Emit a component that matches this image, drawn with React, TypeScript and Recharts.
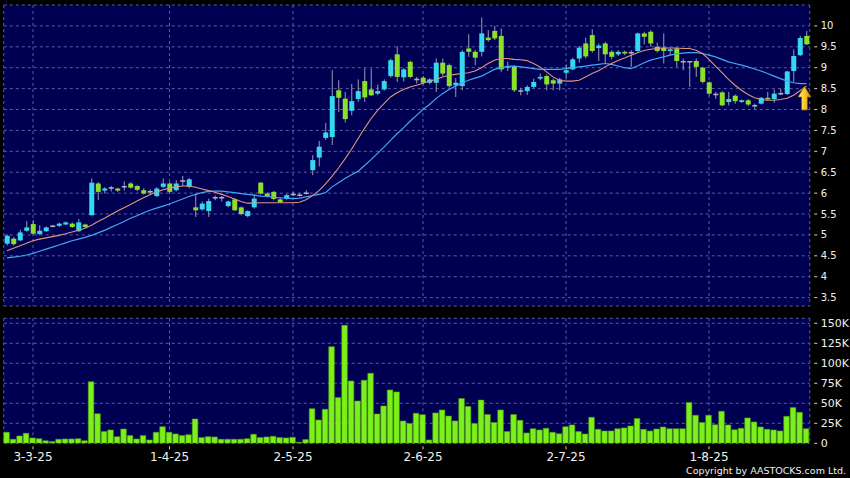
import {
  ComposedChart,
  Bar,
  Line,
  XAxis,
  YAxis,
  CartesianGrid,
  ReferenceDot,
} from "recharts";

// daily OHLC (124 sessions, late Feb → late Aug 2025)
const openP = [
  4.79, 4.91, 4.87, 5.1, 5.26, 5.02, 5.09, 5.21, 5.22, 5.25, 5.27, 5.09, 5.25, 5.47, 6.23, 6.06, 6.12, 6.11, 6.15, 6.23,
  6.17, 6.07, 6.03, 5.93, 6.15, 6.23, 6.07, 6.29, 6.15, 5.66, 5.61, 5.57, 5.89, 5.89, 5.69, 5.85, 5.66, 5.45, 5.66, 6.25,
  5.99, 6.03, 5.85, 5.87, 5.97, 5.95, 6.0, 6.55, 6.85, 7.32, 7.34, 8.46, 8.26, 7.97, 8.25, 8.68, 8.48, 8.38, 8.48, 8.8,
  9.32, 8.77, 9.14, 8.72, 8.76, 8.64, 8.64, 9.12, 9.06, 8.58, 8.56, 9.46, 9.38, 9.38, 9.72, 9.88, 9.76, 9.02, 9.02, 8.44,
  8.44, 8.54, 8.74, 8.8, 8.7, 8.62, 8.88, 8.96, 9.22, 9.58, 9.78, 9.47, 9.58, 9.38, 9.32, 9.38, 9.36, 9.4, 9.82, 9.86,
  9.5, 9.48, 9.4, 9.46, 9.14, 9.14, 9.16, 9.0, 8.65, 8.36, 8.41, 8.18, 8.33, 8.18, 8.22, 8.09, 8.14, 8.28, 8.25, 8.38,
  8.37, 8.92, 9.3, 9.76,
];
const highP = [
  5.01, 4.95, 5.12, 5.33, 5.35, 5.23, 5.2, 5.24, 5.29, 5.32, 5.3, 5.38, 5.27, 6.35, 6.26, 6.14, 6.17, 6.13, 6.28, 6.26,
  6.19, 6.12, 6.09, 6.14, 6.35, 6.26, 6.31, 6.41, 6.36, 5.99, 5.8, 5.87, 5.94, 5.93, 5.82, 5.88, 5.68, 5.59, 5.98, 6.27,
  6.02, 6.05, 5.88, 5.98, 6.03, 6.0, 6.07, 6.91, 7.25, 7.68, 8.94, 8.7, 8.42, 8.61, 8.72, 8.98, 8.98, 8.6, 8.72, 9.22,
  9.51, 8.99, 9.17, 8.78, 8.8, 8.75, 9.22, 9.22, 9.1, 8.75, 9.42, 9.8, 9.42, 10.2, 9.9, 10.0, 9.94, 9.14, 9.06, 8.52,
  8.58, 8.74, 8.86, 8.84, 8.74, 8.76, 9.08, 9.24, 9.52, 9.72, 9.92, 9.58, 9.62, 9.42, 9.42, 9.41, 9.42, 9.84, 9.86, 9.9,
  9.6, 9.82, 9.46, 9.48, 9.22, 9.16, 9.22, 9.02, 8.67, 8.42, 8.44, 8.42, 8.36, 8.24, 8.25, 8.14, 8.3, 8.42, 8.48, 8.5,
  8.93, 9.44, 9.76, 9.88,
];
const lowP = [
  4.75, 4.74, 4.85, 5.08, 5.01, 5.0, 5.07, 5.18, 5.19, 5.23, 5.17, 5.07, 5.17, 5.47, 5.83, 5.99, 6.04, 6.03, 6.06, 6.11,
  6.05, 5.97, 5.97, 5.91, 6.12, 6.0, 6.04, 6.17, 6.12, 5.43, 5.58, 5.43, 5.83, 5.8, 5.66, 5.57, 5.47, 5.42, 5.63, 5.96,
  5.9, 5.83, 5.76, 5.84, 5.93, 5.92, 5.97, 6.43, 6.64, 7.27, 7.15, 7.94, 7.69, 7.86, 8.18, 8.18, 8.32, 8.34, 8.45, 8.76,
  8.66, 8.67, 8.75, 8.62, 8.6, 8.6, 8.42, 8.8, 8.52, 8.3, 8.46, 9.26, 9.06, 9.27, 9.62, 9.66, 8.9, 8.92, 8.42, 8.34,
  8.35, 8.5, 8.7, 8.46, 8.46, 8.46, 8.76, 8.94, 9.12, 9.22, 9.36, 9.16, 9.1, 9.2, 9.28, 9.3, 9.02, 9.38, 9.56, 9.5,
  9.36, 9.1, 9.3, 9.02, 8.94, 8.54, 8.78, 8.62, 8.34, 8.26, 8.08, 8.1, 8.14, 8.16, 8.08, 8.0, 8.12, 8.22, 8.16, 8.35,
  8.35, 8.66, 9.28, 9.54,
];
const closeP = [
  4.98, 4.78, 5.06, 5.18, 5.03, 5.1, 5.18, 5.21, 5.27, 5.3, 5.19, 5.3, 5.19, 6.25, 6.03, 6.11, 6.12, 6.06, 6.15, 6.13,
  6.08, 5.99, 6.03, 6.11, 6.23, 6.03, 6.23, 6.29, 6.33, 5.59, 5.75, 5.81, 5.89, 5.89, 5.8, 5.59, 5.5, 5.57, 5.87, 5.99,
  5.93, 5.86, 5.78, 5.95, 5.97, 5.95, 6.0, 6.79, 7.11, 7.45, 8.32, 8.28, 7.77, 8.2, 8.44, 8.29, 8.34, 8.44, 8.68, 9.18,
  8.78, 8.96, 8.78, 8.72, 8.64, 8.72, 9.12, 8.86, 8.56, 8.64, 9.38, 9.38, 9.24, 9.82, 9.66, 9.7, 8.96, 9.02, 8.46, 8.44,
  8.54, 8.66, 8.78, 8.6, 8.62, 8.72, 8.94, 9.2, 9.48, 9.27, 9.4, 9.53, 9.32, 9.26, 9.38, 9.34, 9.36, 9.82, 9.74, 9.58,
  9.4, 9.4, 9.44, 9.16, 9.14, 9.14, 9.02, 8.66, 8.38, 8.36, 8.1, 8.25, 8.2, 8.22, 8.12, 8.09, 8.28, 8.25, 8.38, 8.38,
  8.91, 9.28, 9.71, 9.56,
];
const volume = [
  13800, 5000, 9200, 12500, 6700, 5800, 3300, 2100, 5000, 5400, 5400, 5800, 3300, 77000, 37000, 14600, 16700, 8300, 17900, 9600,
  5400, 9600, 4200, 13800, 20800, 13800, 11700, 9600, 10800, 30400, 7100, 8300, 7900, 5000, 5000, 5000, 5000, 5800, 11300, 7100,
  7900, 8800, 7100, 6700, 7500, 1300, 4600, 43300, 29200, 42500, 120800, 57100, 147500, 77900, 52900, 78800, 87500, 36700, 46700, 66700,
  64200, 27900, 24600, 37500, 35800, 4200, 38000, 41700, 34000, 28000, 56000, 46000, 24600, 54000, 36000, 26000, 41700, 14600, 36000, 28700,
  13000, 18300, 16700, 18700, 13700, 12000, 20800, 23000, 14600, 11700, 32500, 17500, 15400, 15400, 18300, 19200, 21700, 31000, 17500, 15400,
  17900, 20400, 18300, 18300, 18300, 51000, 35000, 26000, 35000, 23300, 40000, 23000, 17000, 18700, 31700, 26700, 20400, 17500, 16700, 15400,
  33700, 44600, 38700, 18300,
];
// moving averages as drawn (orange = short, blue = long)
const maFast = [
  4.62, 4.68, 4.74, 4.8, 4.86, 4.9, 4.93, 4.96, 4.99, 5.03, 5.07, 5.11, 5.16, 5.23, 5.32, 5.4, 5.49, 5.57, 5.65, 5.73,
  5.81, 5.89, 5.96, 6.03, 6.08, 6.12, 6.15, 6.17, 6.17, 6.14, 6.1, 6.06, 6.02, 5.97, 5.92, 5.86, 5.8, 5.76, 5.76, 5.77,
  5.77, 5.77, 5.77, 5.77, 5.77, 5.78, 5.84, 5.94, 6.06, 6.22, 6.4, 6.6, 6.82, 7.05, 7.3, 7.55, 7.78, 7.98, 8.14, 8.3,
  8.4, 8.48, 8.54, 8.58, 8.63, 8.68, 8.72, 8.78, 8.82, 8.84, 8.86, 8.88, 8.92, 9.0, 9.1, 9.18, 9.22, 9.22, 9.2, 9.19,
  9.17, 9.1, 9.02, 8.9, 8.78, 8.7, 8.68, 8.68, 8.7, 8.78, 8.86, 8.93, 9.02, 9.1, 9.17, 9.23, 9.3, 9.36, 9.41, 9.44,
  9.46, 9.47, 9.47, 9.47, 9.46, 9.46, 9.42, 9.34, 9.2, 9.04, 8.88, 8.72, 8.58, 8.46, 8.36, 8.28, 8.24, 8.22, 8.22, 8.24,
  8.27, 8.34, 8.45, 8.56,
];
const maSlow = [
  4.45, 4.47, 4.49, 4.52, 4.56, 4.61, 4.66, 4.71, 4.76, 4.81, 4.86, 4.9, 4.94, 4.99, 5.05, 5.11, 5.18, 5.25, 5.32, 5.4,
  5.46, 5.53, 5.59, 5.64, 5.69, 5.74, 5.8, 5.86, 5.92, 5.97, 6.01, 6.04, 6.05, 6.05, 6.03, 6.01, 5.99, 5.97, 5.95, 5.93,
  5.92, 5.9, 5.89, 5.88, 5.87, 5.88, 5.91, 5.94, 5.97, 6.01, 6.15, 6.25, 6.35, 6.44, 6.52, 6.66, 6.8, 6.95, 7.1, 7.26,
  7.42, 7.56, 7.72, 7.86, 8.0, 8.12, 8.26, 8.38, 8.48, 8.56, 8.64, 8.7, 8.75, 8.8, 8.88, 8.96, 9.0, 9.03, 9.04, 9.02,
  9.0, 8.98, 8.96, 8.96, 8.96, 8.96, 8.98, 9.0, 9.02, 9.04, 9.06, 9.08, 9.1, 9.08, 9.04, 9.0, 8.98, 9.04, 9.12, 9.18,
  9.22, 9.26, 9.3, 9.33, 9.35, 9.36, 9.36, 9.34, 9.3, 9.26, 9.2, 9.14, 9.1, 9.06, 9.02, 8.97, 8.92, 8.86, 8.8, 8.74,
  8.68, 8.64, 8.62, 8.62,
];

const dateTickIdx = [4, 25, 44, 64, 86, 108];
const dateTickLabels = ["3-3-25", "1-4-25", "2-5-25", "2-6-25", "2-7-25", "1-8-25"];
const priceTicks = [3.5, 4, 4.5, 5, 5.5, 6, 6.5, 7, 7.5, 8, 8.5, 9, 9.5, 10];
const volTicks = [0, 25000, 50000, 75000, 100000, 125000, 150000];

const rows = closeP.map((c, i) => ({
  i,
  o: openP[i],
  h: highP[i],
  l: lowP[i],
  c,
  range: [lowP[i], highP[i]],
  vol: volume[i],
  maFast: maFast[i],
  maSlow: maSlow[i],
}));

const PLOT_BG = "#000052";
const GRID = "#5c5ca6";
const UP = "#35d9ef";
const DOWN = "#8ae02a";
const WICK = "#9a9ab4";
const FONT = '"DejaVu Sans", sans-serif';

function Candle(props: any) {
  const { x, y, width, height, payload } = props;
  const { o, c, h, l } = payload;
  const top = Math.min(y, y + height);
  const span = Math.abs(height);
  const toY = (v: number) => top + ((h - v) / (h - l)) * span;
  const cx = x + width / 2;
  const bodyTop = toY(Math.max(o, c));
  const bodyBot = toY(Math.min(o, c));
  const doji = Math.abs(c - o) < 0.015;
  return (
    <g>
      <line x1={cx} x2={cx} y1={top} y2={top + span} stroke={WICK} strokeWidth={1} />
      {doji ? (
        <line x1={x} x2={x + width} y1={bodyTop} y2={bodyTop} stroke="#b4b4c8" strokeWidth={1.5} />
      ) : (
        <rect
          x={x}
          y={bodyTop}
          width={width}
          height={Math.max(1.5, bodyBot - bodyTop)}
          fill={c > o ? UP : DOWN}
        />
      )}
    </g>
  );
}

function Arrow({ cx, cy }: any) {
  const x = cx - 2;
  return (
    <g>
      <defs>
        <linearGradient id="arrowFill" x1="0" y1="0" x2="1" y2="0">
          <stop offset="0%" stopColor="#fff2a0" />
          <stop offset="55%" stopColor="#f7c51c" />
          <stop offset="100%" stopColor="#c98a00" />
        </linearGradient>
      </defs>
      <polygon
        points={`${x},${cy} ${x + 6.5},${cy + 11} ${x + 3},${cy + 11} ${x + 3},${cy + 24} ${x - 3},${cy + 24} ${x - 3},${cy + 11} ${x - 6.5},${cy + 11}`}
        fill="url(#arrowFill)"
        stroke="#7a5200"
        strokeWidth={0.7}
      />
    </g>
  );
}

function PriceTick({ x, y, payload }: any) {
  return (
    <g>
      <line x1={x + 4.5} x2={x + 7.5} y1={y} y2={y} stroke="#d0d0d0" />
      <text x={x + 11} y={y + 3.5} fill="#f0f0f0" fontSize={10} fontFamily={FONT}>
        {payload.value}
      </text>
    </g>
  );
}

function VolTick({ x, y, payload }: any) {
  const v = payload.value as number;
  return (
    <g>
      <line x1={x + 4.5} x2={x + 7.5} y1={y} y2={y} stroke="#d0d0d0" />
      <text x={x + 11} y={y + 4} fill="#f0f0f0" fontSize={11} fontFamily={FONT}>
        {v === 0 ? "0" : `${v / 1000}K`}
      </text>
    </g>
  );
}

function DateTick({ x, y, payload }: any) {
  const k = dateTickIdx.indexOf(payload.value);
  return (
    <g>
      <line x1={x} x2={x} y1={y + 3} y2={y + 6} stroke="#d0d0d0" />
      <text x={x} y={y + 18} textAnchor="middle" fill="#f0f0f0" fontSize={12} fontFamily={FONT}>
        {k >= 0 ? dateTickLabels[k] : ""}
      </text>
    </g>
  );
}

export default function App() {
  const margin = { top: 5, right: 0, bottom: 6, left: 3.75 };
  return (
    <div
      style={{
        position: "absolute",
        left: 0,
        top: 0,
        width: 850,
        height: 478,
        background: "#000",
        fontFamily: FONT,
      }}
    >
      <ComposedChart width={850} height={312} data={rows} margin={margin} barCategoryGap={0}>
        <CartesianGrid fill={PLOT_BG} stroke={GRID} strokeDasharray="3 3" />
        <XAxis dataKey="i" type="category" hide ticks={dateTickIdx} interval={0} />
        <YAxis
          orientation="right"
          domain={[3.3, 10.5]}
          ticks={priceTicks}
          interval={0}
          width={40.25}
          axisLine={false}
          tickLine={false}
          tickSize={0}
          tickMargin={0}
          tick={<PriceTick />}
          allowDataOverflow
        />
        <Bar dataKey="range" barSize={5} shape={<Candle />} isAnimationActive={false} />
        <Line dataKey="maSlow" type="linear" stroke="#43a6ee" strokeWidth={1.2} dot={false} isAnimationActive={false} />
        <Line dataKey="maFast" type="linear" stroke="#e0957a" strokeWidth={1.1} dot={false} isAnimationActive={false} />
        <ReferenceDot x={123} y={8.56} r={0} shape={<Arrow />} />
      </ComposedChart>

      <ComposedChart
        width={850}
        height={166}
        data={rows}
        margin={{ top: 6.3, right: 0, bottom: 0, left: 3.75 }}
        barCategoryGap={0}
      >
        <CartesianGrid fill={PLOT_BG} stroke={GRID} strokeDasharray="3 3" />
        <XAxis
          dataKey="i"
          type="category"
          ticks={dateTickIdx}
          interval={0}
          height={34.7}
          axisLine={false}
          tickLine={false}
          tickSize={0}
          tickMargin={0}
          tick={<DateTick />}
        />
        <YAxis
          orientation="right"
          domain={[0, 156250]}
          ticks={volTicks}
          interval={0}
          width={40.25}
          axisLine={false}
          tickLine={false}
          tickSize={0}
          tickMargin={0}
          tick={<VolTick />}
          allowDataOverflow
        />
        <Bar dataKey="vol" barSize={5.6} fill="#7cf01a" stroke="#4f9c0c" strokeWidth={0.6} isAnimationActive={false} />
      </ComposedChart>

      <div
        style={{
          position: "absolute",
          right: 4,
          top: 465,
          color: "#f0f0f0",
          fontSize: 9.5,
          lineHeight: "12px",
          whiteSpace: "nowrap",
        }}
      >
        Copyright by AASTOCKS.com Ltd.
      </div>
    </div>
  );
}
